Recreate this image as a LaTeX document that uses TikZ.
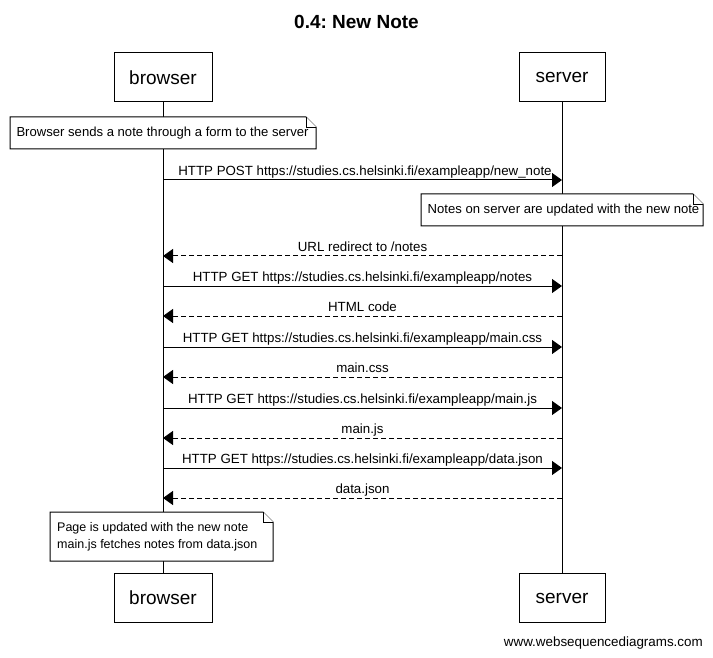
\documentclass[tikz,border=0pt]{standalone}
\usepackage{fontspec}
\setmainfont{Liberation Sans}
\usetikzlibrary{arrows.meta,calc}
\frenchspacing
\tikzset{
  part/.style={draw, line width=1pt, fill=white, minimum height=49pt, inner sep=0pt, font=\fontsize{19}{22}\selectfont},
  msg/.style={line width=1pt, -{Triangle[length=10pt,width=14pt]}},
  ret/.style={msg, dash pattern=on 5pt off 3pt},
  lbl/.style={font=\fontsize{13.3}{15}\selectfont, inner sep=0pt, anchor=base},
  notetext/.style={inner sep=0pt, font=\fontsize{13.1}{17}\selectfont, align=left},
  noteshape/.style={line width=1pt, fill=white},
  fold/.style={line width=0.8pt, fill=white},
}
\newcommand{\drawnote}[5]{%
  % #1 name, #2 x1, #3 y1, #4 x2, #5 y2
  \draw[noteshape] (#2,#3) -- (#4-10,#3) -- (#4,#3+10) -- (#4,#5) -- (#2,#5) -- cycle;
  \draw[fold] (#4-10,#3) -- (#4-10,#3+10) -- (#4,#3+10);
  \coordinate (#1) at ({(#2+#4)/2},{(#3+#5)/2});
}
\begin{document}
\begin{tikzpicture}[x=1pt,y=-1pt]
\useasboundingbox (0,0) rectangle (713,658);
\fill[white] (0,0) rectangle (713,658);

\node[font=\bfseries\fontsize{19}{22}\selectfont, inner sep=0pt] (title) at (356.5,22) {0.4: New Note};

% participants
\node[part, minimum width=98pt] (bt) at (163,77.5) {browser};
\node[part, minimum width=86pt] (st) at (562,77.5) {server};
\node[part, minimum width=98pt] (bb) at (163,598) {browser};
\node[part, minimum width=86pt] (sb) at (562,598) {server};

% lifelines
\draw[line width=1pt] (bt.south) -- (bb.north);
\draw[line width=1pt] (st.south) -- (sb.north);

% note 1
\drawnote{n1}{10}{117}{316}{149}
\node[notetext] (n1t) at (162.5,133) {Browser sends a note through a form to the server};

% message coordinates
\coordinate (b1) at (163,180); \coordinate (s1) at (562,180);
\coordinate (b2) at (163,256); \coordinate (s2) at (562,256);
\coordinate (b3) at (163,286); \coordinate (s3) at (562,286);
\coordinate (b4) at (163,316); \coordinate (s4) at (562,316);
\coordinate (b5) at (163,347); \coordinate (s5) at (562,347);
\coordinate (b6) at (163,377); \coordinate (s6) at (562,377);
\coordinate (b7) at (163,408); \coordinate (s7) at (562,408);
\coordinate (b8) at (163,438); \coordinate (s8) at (562,438);
\coordinate (b9) at (163,468); \coordinate (s9) at (562,468);
\coordinate (b10) at (163,498); \coordinate (s10) at (562,498);

\draw[msg] (b1) -- (s1);
\node[lbl] (l1) at (365,175.5) {HTTP POST https://studies.cs.helsinki.fi/exampleapp/new\_note};

% note 2
\drawnote{n2}{421}{194}{703}{226}
\node[notetext] (n2t) at (563.5,210) {Notes on server are updated with the new note};

\draw[ret] (s2) -- (b2);
\node[lbl] (l2) at (362.5,251.5) {URL redirect to /notes};
\draw[msg] (b3) -- (s3);
\node[lbl] (l3) at (362.5,281.5) {HTTP GET https://studies.cs.helsinki.fi/exampleapp/notes};
\draw[ret] (s4) -- (b4);
\node[lbl] (l4) at (362.5,311.5) {HTML code};
\draw[msg] (b5) -- (s5);
\node[lbl] (l5) at (362.5,342.5) {HTTP GET https://studies.cs.helsinki.fi/exampleapp/main.css};
\draw[ret] (s6) -- (b6);
\node[lbl] (l6) at (362.5,372.5) {main.css};
\draw[msg] (b7) -- (s7);
\node[lbl] (l7) at (362.5,403.5) {HTTP GET https://studies.cs.helsinki.fi/exampleapp/main.js};
\draw[ret] (s8) -- (b8);
\node[lbl] (l8) at (362.5,433.5) {main.js};
\draw[msg] (b9) -- (s9);
\node[lbl] (l9) at (362.5,463.5) {HTTP GET https://studies.cs.helsinki.fi/exampleapp/data.json};
\draw[ret] (s10) -- (b10);
\node[lbl] (l10) at (362.5,493.5) {data.json};

% note 3
\drawnote{n3}{50}{512}{273}{561}
\node[notetext, anchor=west, font=\fontsize{12.5}{17}\selectfont] (n3t) at (57,536.5) {Page is updated with the new note\\main.js fetches notes from data.json};

% watermark
\node[font=\fontsize{13.4}{16}\selectfont, inner sep=0pt, anchor=base east] (wm) at (703,646) {www.websequencediagrams.com};
\end{tikzpicture}
\end{document}
